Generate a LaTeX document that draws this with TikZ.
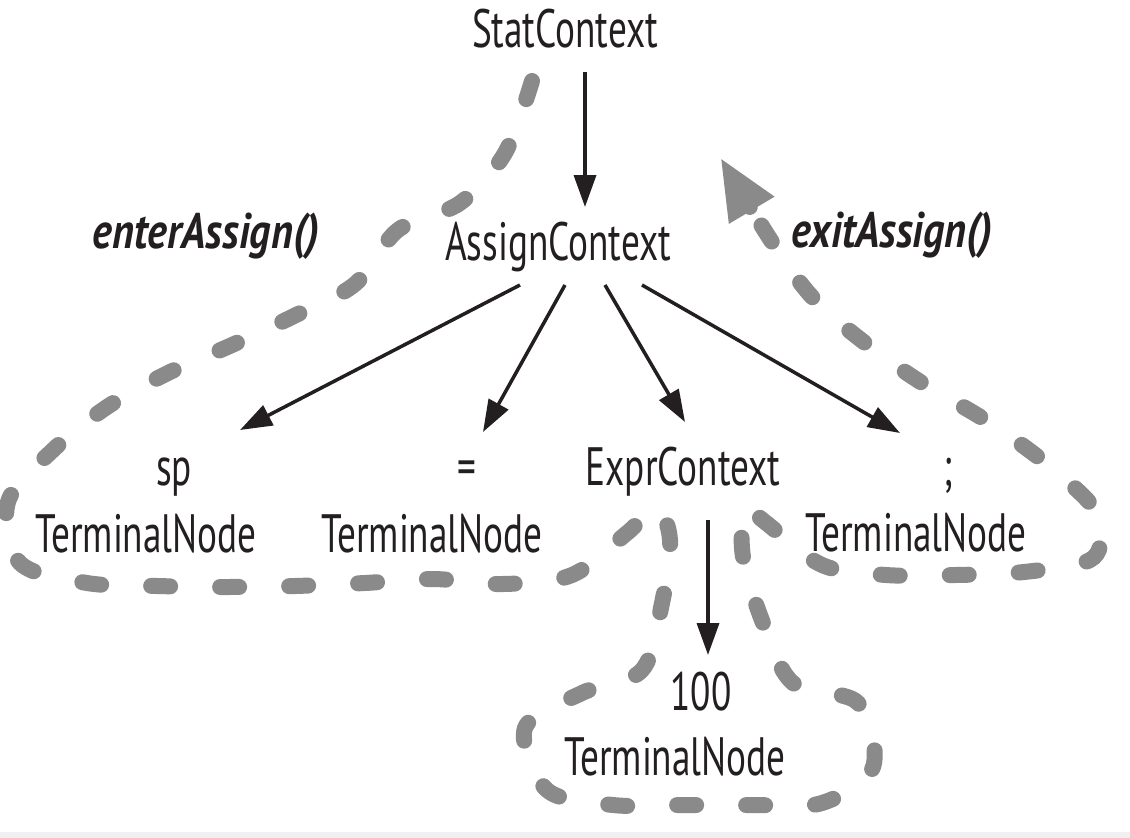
\documentclass[tikz,border=0pt]{standalone}
\usepackage{fontspec}
\setmainfont{PT Sans}[FakeStretch=0.69]
\newfontfamily\callfont{PT Sans}[FakeStretch=0.84]
\usetikzlibrary{arrows.meta,calc}
\definecolor{walkgray}{RGB}{138,138,138}
\definecolor{inkblack}{RGB}{35,31,32}

\begin{document}
\begin{tikzpicture}[x=1pt,y=-1pt]
      \useasboundingbox (0,0) rectangle (1130,838);
      \fill[white] (0,0) rectangle (1130,838);
      \fill[black!6] (0,832) rectangle (1130,838);
      \begin{scope}[every node/.style={inner sep=0pt,anchor=base,text=inkblack,
          font=\fontsize{54}{60}\selectfont}]
        \node (stat) at (565,47) {StatContext};
        \node (assign) at (558,260) {AssignContext};
        \node (sp) at (174,485) {sp};
        \node (spT) at (146,552) {TerminalNode};
        \node (eq) at (467,485) {=};
        \node (eqT) at (432,552) {TerminalNode};
        \node (expr) at (683,485) {ExprContext};
        \node (semi) at (948,485) {;};
        \node (semiT) at (916,551) {TerminalNode};
        \node (num) at (701,710) {100};
        \node (numT) at (675,775) {TerminalNode};
      \end{scope}
      \begin{scope}[every node/.style={inner sep=0pt,anchor=base,text=inkblack,
          font=\callfont\fontsize{50}{56}\selectfont\bfseries\itshape}]
        \node (enter) at (206,248) {enterAssign()};
        \node (exit) at (892,247) {exitAssign()};
      \end{scope}
      % walk of the tree
      \draw[walkgray, line width=16pt, line cap=round, dash pattern=on 19pt off 50pt,
          -{Triangle[length=62pt,width=48pt]}]
        plot[smooth, tension=0.55] coordinates {
          (532,81) (505,153) (460,203) (398,230) (355,284) (294,316) (232,345)
          (168,373) (107,407) (53,450) (8,502) (20,563) (87,583) (157,586)
          (225,587) (295,586) (365,583) (433,579) (503,584) (572,575) (627,533)
          (656,508) (670,540) (662,603) (642,670) (582,693) (525,728) (547,790)
          (613,805) (682,805) (752,805) (822,803) (873,767) (858,703) (793,683)
          (763,623) (743,557) (745,508) (765,522) (822,565) (886,575) (955,575)
          (1024,572) (1090,560) (1101,531) (1089,502) (1038,457) (982,418)
          (922,383) (865,343) (813,298) (772,242) (720,157)};
      \begin{scope}
        [every edge/.style={draw=inkblack, line width=3.5pt,
          -{Triangle[length=32pt,width=22pt]}}]
        \path ($(stat.base)+(20,25)$) edge ($(assign.base)+(27,-53)$);
        \path ($(assign.base)+(-38,25)$) edge ($(sp.base)+(66,-55)$);
        \path ($(assign.base)+(7,25)$) edge ($(eq.base)+(16,-53)$);
        \path ($(assign.base)+(47,25)$) edge ($(expr.base)+(2,-63)$);
        \path ($(assign.base)+(84,25)$) edge ($(semi.base)+(-48,-52)$);
        \path ($(expr.base)+(25,35)$) edge ($(num.base)+(7,-55)$);
      \end{scope}
    \end{tikzpicture}
\end{document}
